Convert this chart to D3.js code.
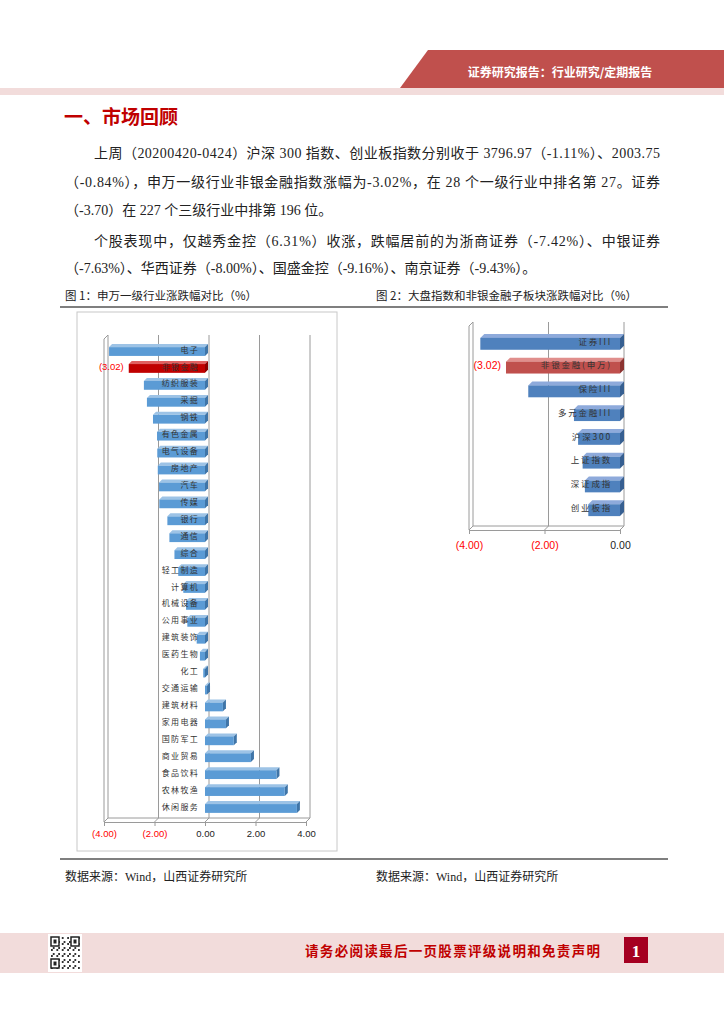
<!DOCTYPE html>
<html>
<head>
<meta charset="utf-8">
<script src="https://cdn.jsdelivr.net/npm/d3@7"></script>
<style>
  body { margin: 0; background: #fff; }
  svg { display: block; }
</style>
</head>
<body>
<div id="page"></div>
<script>
// 1: DATA
// Figure 1: SW level-1 industries, weekly change (%)
const industries = ["电子", "非银金融", "纺织服装", "采掘", "钢铁", "有色金属", "电气设备", "房地产", "汽车", "传媒",
  "银行", "通信", "综合", "轻工制造", "计算机", "机械设备", "公用事业", "建筑装饰", "医药生物", "化工",
  "交通运输", "建筑材料", "家用电器", "国防军工", "商业贸易", "食品饮料", "农林牧渔", "休闲服务"];
const industryChange = [-3.80, -3.02, -2.42, -2.30, -2.06, -1.90, -1.89, -1.87, -1.82, -1.81,
  -1.49, -1.41, -1.21, -1.06, -0.86, -0.75, -0.70, -0.33, -0.20, -0.07,
  0.08, 0.71, 0.83, 1.14, 1.82, 2.83, 3.16, 3.64];
// Figure 2: market indices and non-bank sub sectors (%)
const indexNames = ["证券III", "非银金融(申万)", "保险III", "多元金融III", "沪深300", "上证指数", "深证成指", "创业板指"];
const indexChange = [-3.70, -3.02, -2.43, -1.22, -1.11, -0.99, -0.93, -0.84];
const highlight = "非银金融";
const ticks1 = [-4, -2, 0, 2, 4];
const ticks2 = [-4, -2, 0];

const bodyLines = [
  "上周（20200420-0424）沪深 300 指数、创业板指数分别收于 3796.97（-1.11%）、2003.75",
  "（-0.84%），申万一级行业非银金融指数涨幅为-3.02%，在 28 个一级行业中排名第 27。证券",
  "（-3.70）在 227 个三级行业中排第 196 位。",
  "个股表现中，仅越秀金控（6.31%）收涨，跌幅居前的为浙商证券（-7.42%）、中银证券",
  "（-7.63%）、华西证券（-8.00%）、国盛金控（-9.16%）、南京证券（-9.43%）。"
];

const fmt = v => v < 0 ? `(${(-v).toFixed(2)})` : v.toFixed(2);
const cjk = "'Noto Sans CJK SC', sans-serif";
const serif = "'Liberation Serif', 'Noto Sans CJK SC', serif";

const svg = d3.select("#page").append("svg")
  .attr("width", 724).attr("height", 1024);

// 2: PAGE FRAME (header, title, text)
svg.append("polygon").attr("points", "428,50 724,50 724,88 400,88").attr("fill", "#c0504d");
svg.append("rect").attr("x", 0).attr("y", 88).attr("width", 724).attr("height", 7).attr("fill", "#f2dcdb");
svg.append("text").attr("x", 560).attr("y", 77).attr("text-anchor", "middle")
  .attr("font-family", cjk).attr("font-weight", "bold").attr("font-size", 12).attr("fill", "#fff")
  .text("证券研究报告：行业研究/定期报告");

svg.append("text").attr("x", 64).attr("y", 124)
  .attr("font-family", cjk).attr("font-weight", "bold").attr("font-size", 19).attr("fill", "#c00000")
  .text("一、市场回顾");

const lineSpec = [
  { x: 94, y: 158, w: 566 }, { x: 65, y: 187, w: 595 }, { x: 65, y: 215, w: null },
  { x: 94, y: 246, w: 566 }, { x: 65, y: 273, w: null }
];
bodyLines.forEach((t, i) => {
  const s = lineSpec[i];
  const el = svg.append("text").attr("x", s.x).attr("y", s.y)
    .attr("font-family", serif).attr("font-size", 14).attr("fill", "#222").text(t);
  if (s.w) el.attr("textLength", s.w).attr("lengthAdjust", "spacing");
});

svg.append("text").attr("x", 65).attr("y", 300).attr("font-family", cjk).attr("font-size", 11.5).attr("fill", "#222")
  .text("图 1：申万一级行业涨跌幅对比（%）");
svg.append("text").attr("x", 376).attr("y", 300).attr("font-family", cjk).attr("font-size", 11.5).attr("fill", "#222")
  .text("图 2：大盘指数和非银金融子板块涨跌幅对比（%）");
svg.append("line").attr("x1", 60).attr("x2", 668).attr("y1", 307).attr("y2", 307).attr("stroke", "#555").attr("stroke-width", 1.3);
svg.append("line").attr("x1", 60).attr("x2", 668).attr("y1", 859).attr("y2", 859).attr("stroke", "#555").attr("stroke-width", 1.3);
[65, 376].forEach(x => svg.append("text").attr("x", x).attr("y", 881)
  .attr("font-family", serif).attr("font-size", 12).attr("fill", "#222").text("数据来源：Wind，山西证券研究所"));

// footer
svg.append("rect").attr("x", 0).attr("y", 933).attr("width", 724).attr("height", 40).attr("fill", "#f2dcdb");
svg.append("rect").attr("x", 48).attr("y", 934).attr("width", 34).attr("height", 38).attr("fill", "#fff");
const qr = svg.append("g").attr("transform", "translate(51,937)");
for (let r = 0; r < 16; r++) for (let c = 0; c < 16; c++) {
  if ((r * 7 + c * 5 + r * c) % 3 === 0) qr.append("rect").attr("x", c * 1.8).attr("y", r * 2).attr("width", 1.8).attr("height", 2).attr("fill", "#333");
}
[[0, 0], [20, 0], [0, 22]].forEach(([x, y]) => {
  qr.append("rect").attr("x", x).attr("y", y).attr("width", 8).attr("height", 9).attr("fill", "#fff").attr("stroke", "#222").attr("stroke-width", 1.5);
  qr.append("rect").attr("x", x + 2.5).attr("y", y + 2.5).attr("width", 3).attr("height", 4).attr("fill", "#222");
});
svg.append("text").attr("x", 305).attr("y", 956).attr("textLength", 295).attr("lengthAdjust", "spacing")
  .attr("font-family", cjk).attr("font-weight", "bold").attr("font-size", 13.5).attr("fill", "#c00000")
  .text("请务必阅读最后一页股票评级说明和免责声明");
svg.append("rect").attr("x", 624).attr("y", 937).attr("width", 24).attr("height", 26).attr("fill", "#a50021");
svg.append("text").attr("x", 636).attr("y", 957).attr("text-anchor", "middle")
  .attr("font-family", serif).attr("font-weight", "bold").attr("font-size", 17).attr("fill", "#fff").text("1");

// 3: 3D BAR CHART HELPER
function drawChart(cfg) {
  const { names, values, x, y, top, floor, dw, depth, colors, labelX, labelSize, labelSpacing, ticks } = cfg;
  const g = svg.append("g");
  const floorBack = floor - dw;
  const x0 = x.domain()[0];

  // back wall gridlines with slant to the floor front
  ticks.forEach(t => {
    const xb = x(t) + dw;
    g.append("path")
      .attr("d", `M${xb},${top}V${floorBack}L${x(t)},${floor}`)
      .attr("fill", "none").attr("stroke", "#9a9a9a").attr("stroke-width", 1);
  });
  // left wall (front edge)
  g.append("path")
    .attr("d", `M${x(x0)},${floor}V${top + dw}L${x(x0) + dw},${top}`)
    .attr("fill", "none").attr("stroke", "#9a9a9a").attr("stroke-width", 1);
  // back floor edge
  g.append("line").attr("x1", x(x0) + dw).attr("x2", x(ticks[ticks.length - 1]) + dw)
    .attr("y1", floorBack).attr("y2", floorBack).attr("stroke", "#9a9a9a");

  // bars
  const bars = g.selectAll(".bar").data(names.map((n, i) => ({ name: n, value: values[i] })))
    .enter().append("g").attr("class", "bar");
  const h = y.bandwidth();
  bars.each(function (d) {
    const b = d3.select(this);
    const xa = Math.min(x(d.value), x(0)), xb = Math.max(x(d.value), x(0));
    const yy = y(d.name);
    const c = d.name.startsWith(highlight) ? colors.red : colors.blue;
    b.append("polygon")
      .attr("points", `${xa},${yy} ${xa + depth},${yy - depth} ${xb + depth},${yy - depth} ${xb},${yy}`)
      .attr("fill", c.top);
    b.append("polygon")
      .attr("points", `${xb},${yy} ${xb + depth},${yy - depth} ${xb + depth},${yy + h - depth} ${xb},${yy + h}`)
      .attr("fill", c.side);
    b.append("rect").attr("x", xa).attr("y", yy).attr("width", Math.max(xb - xa, 0.5)).attr("height", h)
      .attr("fill", c.front);
  });

  // category labels (via axis)
  const cat = g.append("g").attr("transform", `translate(${labelX},${-depth / 2})`)
    .call(d3.axisLeft(y).tickSize(0).tickPadding(0));
  cat.select(".domain").remove();
  cat.selectAll("text").attr("font-family", cjk).attr("font-size", labelSize)
    .attr("letter-spacing", labelSpacing).attr("fill", "#333");

  // red data label for the highlighted bar
  const hi = names.findIndex(n => n.startsWith(highlight));
  g.append("text").attr("x", x(values[hi]) - 5).attr("y", y(names[hi]) + h / 2 - depth / 2)
    .attr("dy", "0.35em").attr("text-anchor", "end")
    .attr("font-family", "'Liberation Sans', Arial, sans-serif").attr("font-size", cfg.valueSize)
    .attr("fill", "#ff0000").text(fmt(values[hi]));

  // value axis on the floor front
  const ax = g.append("g").attr("transform", `translate(0,${floor})`)
    .call(d3.axisBottom(x).tickValues(ticks).tickFormat(fmt).tickSize(4).tickSizeOuter(0).tickPadding(cfg.tickPad));
  ax.select(".domain").attr("stroke", "#9a9a9a");
  ax.selectAll(".tick line").attr("stroke", "#9a9a9a");
  ax.selectAll(".tick text")
    .attr("font-family", "'Liberation Sans', Arial, sans-serif").attr("font-size", cfg.valueSize)
    .attr("fill", d => d < 0 ? "#ff0000" : "#222");
}

// 4: CHART 1
svg.append("rect").attr("x", 77).attr("y", 312).attr("width", 260).attr("height", 539)
  .attr("fill", "none").attr("stroke", "#c8c8c8");
drawChart({
  names: industries, values: industryChange,
  x: d3.scaleLinear().domain([-4, 4]).range([104, 306]),
  y: d3.scaleBand().domain(industries).range([339, 821]).padding(0.48),
  top: 335, floor: 822, dw: 4, depth: 3,
  colors: {
    blue: { front: "#5b9bd5", top: "#9dc3e6", side: "#3f75a8" },
    red: { front: "#c00000", top: "#e06060", side: "#8b0000" }
  },
  labelX: 199, labelSize: 8, labelSpacing: 1.3, valueSize: 9.5, tickPad: 4, ticks: ticks1
});

// 5: CHART 2
drawChart({
  names: indexNames, values: indexChange,
  x: d3.scaleLinear().domain([-4, 0]).range([469, 620]),
  y: d3.scaleBand().domain(indexNames).range([326, 528]).padding(0.5),
  top: 322, floor: 530, dw: 4, depth: 4,
  colors: {
    blue: { front: "#4f81bd", top: "#8eaadb", side: "#365f91" },
    red: { front: "#c0504d", top: "#e08e8c", side: "#8c3330" }
  },
  labelX: 612, labelSize: 8.5, labelSpacing: 1.8, valueSize: 10.5, tickPad: 8, ticks: ticks2
});
</script>
</body>
</html>
